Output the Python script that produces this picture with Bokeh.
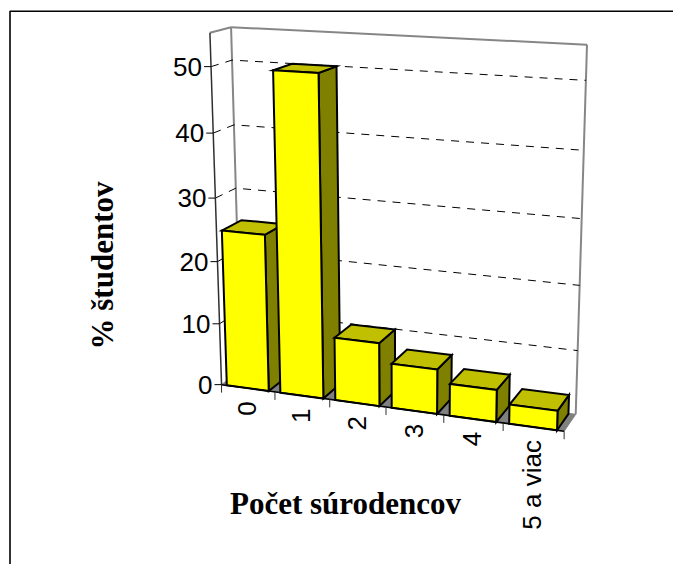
import numpy as np
from bokeh.core.properties import value
from bokeh.embed import file_html
from bokeh.models import Range1d
from bokeh.plotting import figure
from bokeh.resources import INLINE

# Share of students by number of siblings
categories = ["0", "1", "2", "3", "4", "5 a viac"]
percent = [25.0, 50.0, 10.0, 7.0, 5.0, 3.0]
value_ticks = [0, 10, 20, 30, 40, 50]
value_top = 55
x_title = "Počet súrodencov"
y_title = "% študentov"

W, H = 673, 564

# Oblique view of the chart box: (category, value, depth) -> canvas position.
anchors = [
    (0, 0, 0, 222, 384), (1, 0, 0, 273, 392), (2, 0, 0, 329, 399.5), (3, 0, 0, 386, 407),
    (4, 0, 0, 443, 415), (5, 0, 0, 503, 422), (6, 0, 0, 563, 430),
    (0, 10, 0, 219.7, 322), (0, 20, 0, 217.5, 262), (0, 30, 0, 215.1, 198),
    (0, 40, 0, 212.7, 132), (0, 50, 0, 210.3, 66), (0, 55, 0, 209, 32),
    (0, 0, 1, 240, 369), (0, 30, 1, 235, 188), (0, 40, 1, 233, 124),
    (0, 50, 1, 232, 61), (0, 55, 1, 231, 26),
    (6, 0, 1, 576, 414), (6, 10, 1, 577.5, 350), (6, 20, 1, 579, 284), (6, 30, 1, 581, 219),
    (6, 40, 1, 583, 150), (6, 50, 1, 585, 80), (6, 55, 1, 587, 44),
]
rows, rhs = [], []
for c, v, d, x, y in anchors:
    q = [c / 6, v / 55, d, 1]
    rows.append(q + [0, 0, 0, 0] + [-x * q[0], -x * q[1], -x * q[2]])
    rhs.append(x)
    rows.append([0, 0, 0, 0] + q + [-y * q[0], -y * q[1], -y * q[2]])
    rhs.append(y)
cam = np.append(np.linalg.lstsq(np.array(rows, float), np.array(rhs, float), rcond=None)[0], 1.0).reshape(3, 4)


def at(c, v, d):
    h = cam @ np.array([c / 6, v / 55, d, 1.0])
    return float(h[0] / h[2]), float(h[1] / h[2])


def outline(*corners):
    pts = [at(*k) for k in corners]
    return [q[0] for q in pts], [q[1] for q in pts]


p = figure(width=W, height=H, x_range=Range1d(0, W), y_range=Range1d(H, 0),
           output_backend="svg", toolbar_location=None, x_axis_location=None,
           y_axis_location=None, min_border=0, outline_line_color=None,
           background_fill_color="white", border_fill_color="white")
p.grid.visible = False

# Surrounding frame, open to the right and below
p.line([9.5, 9.5, W], [H, 10.8, 10.8], line_color="black", line_width=1.6)

# Floor
fx, fy = outline((0, 0, 0), (6, 0, 0), (6, 0, 1), (0, 0, 1))
p.patch(fx, fy, fill_color="#808080", line_color="#808080", line_width=1)

# Box edges on the far side
for a, b in [((0, 0, 1), (0, value_top, 1)),
             ((0, value_top, 1), (6, value_top, 1)),
             ((6, value_top, 1), (6, 0, 1)),
             ((0, value_top, 0), (0, value_top, 1))]:
    xs, ys = outline(a, b)
    p.line(xs, ys, line_color="#868686", line_width=2)

# Dashed value gridlines across the side and back walls
for v in value_ticks[1:]:
    xs, ys = outline((0, v, 0), (0, v, 1), (6, v, 1))
    p.line(xs, ys, line_color="black", line_width=1, line_dash="8 7")

# Value axis with its ticks and labels
xs, ys = outline((0, 0, 0), (0, value_top, 0))
p.line(xs, ys, line_color="#303030", line_width=1.5)
yt = [at(0, v, 0) for v in value_ticks]
p.segment([q[0] - 7 for q in yt], [q[1] for q in yt], [q[0] for q in yt], [q[1] for q in yt],
          line_color="black", line_width=1)
p.text([q[0] - 9 for q in yt], [q[1] for q in yt], text=[str(v) for v in value_ticks],
       text_font=value("Liberation Sans"), text_font_size="26px", text_color="black",
       text_align="right", text_baseline="middle")

# Bars, drawn left to right so that each one overlaps the side of its neighbour
GAP_L, GAP_R, D0, D1 = 0.10, 0.885, 0.0, 0.97
for i, v in enumerate(percent):
    c0, c1 = i + GAP_L, i + GAP_R
    for face, color in [
        (((c1, 0, D0), (c1, 0, D1), (c1, v, D1), (c1, v, D0)), "#808000"),
        (((c0, v, D0), (c1, v, D0), (c1, v, D1), (c0, v, D1)), "#C0C000"),
        (((c0, 0, D0), (c1, 0, D0), (c1, v, D0), (c0, v, D0)), "#FFFF00"),
    ]:
        xs, ys = outline(*face)
        p.patch(xs, ys, fill_color=color, line_color="black", line_width=2, line_join="miter")

# Category axis with its ticks and labels
xs, ys = outline((0, 0, 0), (6, 0, 0))
p.line(xs, ys, line_color="black", line_width=1.5)
ct = [at(i, 0, 0) for i in range(len(categories) + 1)]
p.segment([q[0] for q in ct], [q[1] for q in ct], [q[0] for q in ct], [q[1] + 8 for q in ct],
          line_color="#303030", line_width=1)
lab = [at(i + 0.5, 0, 0) for i in range(len(categories))]
p.text([q[0] - 1 for q in lab], [q[1] + 13 for q in lab], text=categories, angle=np.pi / 2,
       text_font=value("Liberation Sans"), text_font_size="26px", text_color="black",
       text_align="right", text_baseline="middle")

# Axis titles
p.text([345], [503], text=[x_title], text_font=value("Liberation Serif"), text_font_size="31px",
       text_font_style="bold", text_color="black", text_align="center", text_baseline="middle")
p.text([102], [265], text=[y_title], angle=np.pi / 2, text_font=value("Liberation Serif"),
       text_font_size="31px", text_font_style="bold", text_color="black",
       text_align="center", text_baseline="middle")

open("out.html", "w").write(file_html(p, INLINE))
